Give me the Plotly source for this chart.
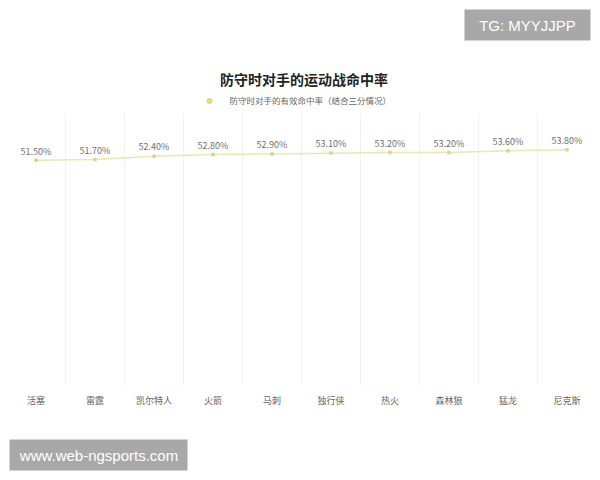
import plotly.graph_objects as go

teams = ["活塞", "雷霆", "凯尔特人", "火箭", "马刺", "独行侠", "热火", "森林狼", "猛龙", "尼克斯"]
rates = [51.5, 51.7, 52.4, 52.8, 52.9, 53.1, 53.2, 53.2, 53.6, 53.8]
series_name = "防守时对手的有效命中率（结合三分情况）"
title_text = "防守时对手的运动战命中率"

CJK = "Noto Sans CJK SC"

# the page has an 8px body margin: figure pixel = page pixel - 8
OFF = 8
W, H = 592, 472
L, R = 0, 588            # figure px of plot area (page 8 .. 596)
T, B = 113 - OFF, 385 - OFF
SLOT = 59.0              # px per category
C0 = 36 - OFF            # figure px of first category centre

def px(page_x):
    return (page_x - OFF - L) / (R - L)

def py(page_y):
    return (B - (page_y - OFF)) / (B - T)

x_range = [(L - C0) / SLOT, (R - C0) / SLOT]

fig = go.Figure()
fig.add_trace(go.Scatter(
    x=teams, y=rates, name=series_name, showlegend=False,
    mode="lines+markers+text",
    line=dict(color="#ebe6b4", width=1.5),
    marker=dict(color="#dcd48f", size=4),
    text=[f"{v:.2f}%" for v in rates],
    textposition="top center",
    textfont=dict(family=CJK, size=9, color="#6f6f6f"),
    cliponaxis=False,
))
fig.add_trace(go.Scatter(
    x=[None], y=[None], name=series_name, mode="markers",
    marker=dict(color="#e8d680", size=6),
))

fig.update_layout(
    width=W, height=H,
    margin=dict(l=L, r=W - R, t=T, b=H - B),
    paper_bgcolor="white", plot_bgcolor="white",
    title=dict(text=title_text, x=0.5, xanchor="center", y=1 - (80 - OFF) / H, yanchor="middle",
               font=dict(family=CJK, size=14, color="#222222", weight="bold")),
    showlegend=True,
    legend=dict(orientation="h", x=px(293), xanchor="center", y=py(101), yanchor="middle",
                font=dict(family=CJK, size=8.5, color="#666666"),
                itemwidth=30, bgcolor="rgba(0,0,0,0)"),
    xaxis=dict(type="category", tickson="boundaries", showgrid=True, gridcolor="#f2f2f2",
               gridwidth=1, showline=False, zeroline=False,
               ticks="", ticklabelstandoff=9,
               tickfont=dict(family=CJK, size=9, color="#666666"),
               range=x_range),
    yaxis=dict(range=[2.65, 61.8], showgrid=False, showticklabels=False, zeroline=False,
               showline=False),
    annotations=[
        dict(text="TG: MYYJJPP", xref="paper", yref="paper", x=px(527.5), y=py(25),
             xanchor="center", yanchor="middle", showarrow=False,
             width=125, height=30, bgcolor="#a8a8a8", borderpad=0,
             font=dict(family="Liberation Sans", size=15, color="white")),
        dict(text="www.web-ngsports.com", xref="paper", yref="paper", x=px(98.5), y=py(455),
             xanchor="center", yanchor="middle", showarrow=False,
             width=177, height=30, bgcolor="#a8a8a8", borderpad=0,
             font=dict(family="Liberation Sans", size=15, color="white")),
    ],
)

fig.write_html("out.html")
